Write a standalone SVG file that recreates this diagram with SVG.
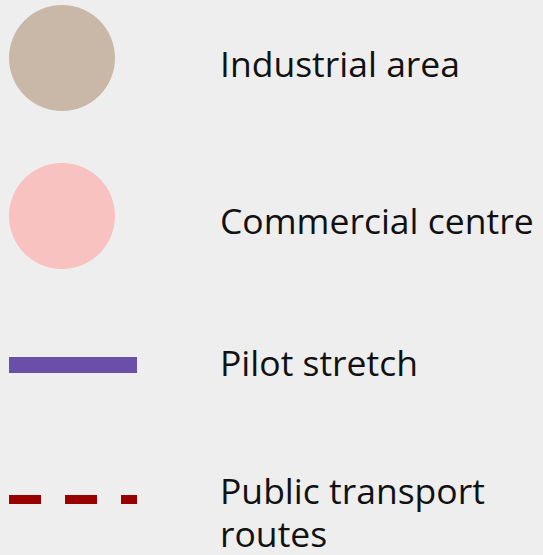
<svg xmlns="http://www.w3.org/2000/svg" width="543" height="555" viewBox="0 0 543 555">
<style>
.lbl{font-family:"Open Sans","Noto Sans","Liberation Sans",sans-serif;font-size:35.5px;fill:#111}
</style>
<rect width="543" height="555" fill="#eeeeee"/>
<g id="industrial">
<circle cx="62" cy="58" r="53" fill="#c9b8a8"/>
<text class="lbl" x="220" y="77">Industrial area</text>
</g>
<g id="commercial">
<circle cx="62" cy="216" r="53" fill="#f7c2c0"/>
<text class="lbl" x="220" y="234">Commercial centre</text>
</g>
<g id="pilot">
<rect x="9" y="357" width="128" height="16" fill="#6a4fa8"/>
<text class="lbl" x="220" y="376">Pilot stretch</text>
</g>
<g id="transport">
<line x1="9" y1="499.5" x2="137" y2="499.5" stroke="#990000" stroke-width="9" stroke-dasharray="32 24"/>
<text class="lbl" x="220" y="504">Public transport<tspan x="220" y="547">routes</tspan></text>
</g>
</svg>
